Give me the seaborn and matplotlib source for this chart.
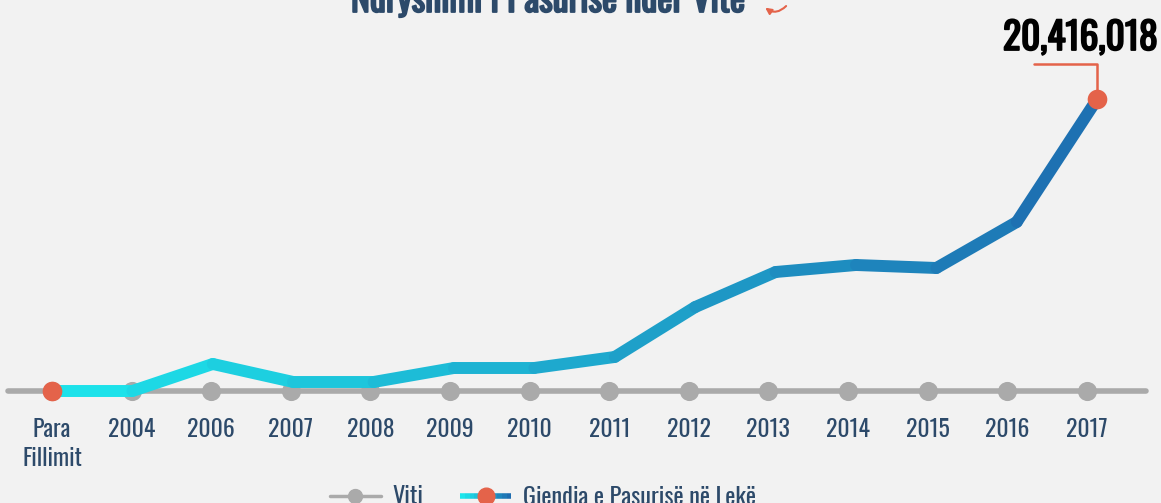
import numpy as np
import matplotlib
matplotlib.use("Agg")
import matplotlib.pyplot as plt
import matplotlib.patheffects as pe
import seaborn as sns
from matplotlib.collections import LineCollection
from matplotlib.colors import LinearSegmentedColormap
from matplotlib.legend_handler import HandlerBase
from matplotlib.lines import Line2D

# te dhenat
vitet = ['Para\nFillimit', '2004', '2006', '2007', '2008', '2009', '2010',
         '2011', '2012', '2013', '2014', '2015', '2016', '2017']
pasuria = [0, 0, 1890000, 630000, 630000, 1610000, 1610000, 2380000,
           5870000, 8320000, 8810000, 8600000, 11820000, 20416018]
titulli = 'Ndryshimi i Pasurisë ndër Vite'
seria_viti = 'Viti'
seria_pasuria = 'Gjendja e Pasurisë në Lekë'

blu_erret = '#2d4a6a'
kuq = '#e4634a'
gri = '#aaaaaa'
gradient = LinearSegmentedColormap.from_list('g', ['#1de6ec', '#1e6db0'])

sns.set_theme(style='white')
plt.rcParams['font.family'] = ['Oswald', 'IBM Plex Sans Condensed', 'DejaVu Sans']

fig = plt.figure(figsize=(11.61, 5.03), dpi=100, facecolor='#f2f2f2')
ax = fig.add_axes([0, 0, 1, 1])
ax.set_facecolor('#f2f2f2')
ax.axis('off')

x = np.arange(len(vitet))
px = 79.6
ax.set_xlim(-52 / px, (1161 - 52) / px)
per_px = 20416018 / 292
ax.set_ylim(-112 * per_px, 391 * per_px)

# vija gri e viteve
ax.axhline(0, xmin=8 / 1161, xmax=1146 / 1161, color=gri, lw=4, zorder=1)
sns.scatterplot(x=x, y=np.zeros(len(x)), color=gri, s=190, linewidth=0,
                ax=ax, zorder=2)

# vija me gradient (shkalla e saj horizontale pak me e gjere)
x_linja = x * (80.4 / px)
pts = np.column_stack([x_linja, pasuria])
segs = np.stack([pts[:-1], pts[1:]], axis=1)
ngj = gradient((x[:-1] + 0.5) / x[-1])
lc = LineCollection(segs, colors=ngj, linewidths=8.6, capstyle='round',
                    joinstyle='round', zorder=3)
ax.add_collection(lc)

sns.scatterplot(x=[x_linja[0], x_linja[-1]], y=[pasuria[0], pasuria[-1]],
                color=kuq, s=200, linewidth=0, ax=ax, zorder=4)

for xi, lab in zip(x, vitet):
    ax.text(xi, -27 * per_px, lab, ha='center', va='top', fontsize=17,
            color=blu_erret, linespacing=1.3)

# etiketa e vleres se fundit
ax.annotate('', xy=(x_linja[-1], pasuria[-1]), xytext=(-63, 35),
            textcoords='offset pixels',
            arrowprops=dict(arrowstyle='-', color=kuq, lw=1.8,
                            connectionstyle='angle,angleA=0,angleB=90,rad=0',
                            shrinkA=0, shrinkB=0), zorder=3)
ax.annotate(f'{pasuria[-1]:,}', xy=(x_linja[-1], pasuria[-1]), xytext=(-17, 49),
            textcoords='offset pixels', ha='center', va='baseline',
            fontsize=27, color='black',
            path_effects=[pe.withStroke(linewidth=1.3, foreground='black')])

# titulli
fig.text(548 / 1161, 1 - 12 / 503, titulli, ha='center', va='baseline',
         fontsize=26, color=blu_erret,
         path_effects=[pe.withStroke(linewidth=1.3, foreground=blu_erret)])
ax.annotate('', xy=(763, 497), xytext=(788, 499), xycoords='figure pixels',
            textcoords='figure pixels',
            arrowprops=dict(arrowstyle='-|>', color=kuq, lw=1.5,
                            mutation_scale=9,
                            connectionstyle='arc3,rad=-0.5'))


class HandlerGradient(HandlerBase):
    def create_artists(self, legend, orig, xd, yd, w, h, fs, trans):
        xs = np.linspace(xd, xd + w, 12)
        yc = yd + h / 2
        s = [[(xs[i], yc), (xs[i + 1], yc)] for i in range(len(xs) - 1)]
        c = LineCollection(s, colors=gradient(np.linspace(0, 1, len(s))),
                           linewidths=4, transform=trans)
        m = Line2D([xd + w / 2], [yc], marker='o', color=kuq, ms=12,
                   ls='none', transform=trans)
        return [c, m]


h1 = Line2D([], [], color=gri, lw=2.5, marker='o', ms=10)
h2 = Line2D([], [], color=kuq)
fig.legend([h1, h2], [seria_viti, seria_pasuria], loc='center',
           bbox_to_anchor=(543 / 1161, 1 - 497 / 503), ncol=2, frameon=False,
           fontsize=17.5, labelcolor=blu_erret, handlelength=2.1,
           handletextpad=0.5, columnspacing=1.5,
           handler_map={h2: HandlerGradient()})

fig.savefig('out.png', dpi=100, facecolor=fig.get_facecolor())
